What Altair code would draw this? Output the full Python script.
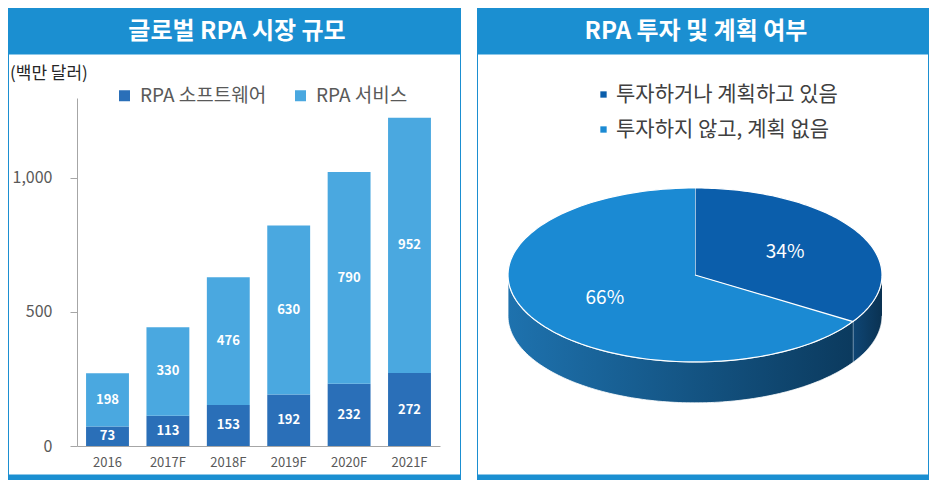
import altair as alt
import pandas as pd

# ---------------- data ----------------
years = ["2016", "2017F", "2018F", "2019F", "2020F", "2021F"]
software = [73, 113, 153, 192, 232, 272]
services = [198, 330, 476, 630, 790, 952]
series_names = ["RPA 소프트웨어", "RPA 서비스"]
y_ticks = [0, 500, 1000]

pie_labels = ["투자하거나 계획하고 있음", "투자하지 않고, 계획 없음"]
pie_shares = [34, 66]

left_title = "글로벌 RPA 시장 규모"
right_title = "RPA 투자 및 계획 여부"
unit_text = "(백만 달러)"

# ---------------- style ----------------
FONT = "Noto Sans CJK KR"
BLUE = "#1b8fd1"
C_SOFT = "#2a6fb8"
C_SERV = "#4aa8e0"
TOP_COLORS = ["#0b5eab", "#1b8ad3"]
AXIS_GRAY = "#a6a6a6"
LABEL_GRAY = "#595959"

PH = 348          # plot height (both panels)
PW_L = 363        # left plot width
PW_R = 436        # right plot width
N = 120           # arc sampling steps
DEPTH = 0.47      # pie thickness in units of the vertical radius

one = alt.Data(values=[{"a": 1}])


def decorations(x0, x1, title, tx):
    header = alt.Chart(one).mark_rect(color=BLUE).encode(
        x=alt.value(x0), x2=alt.value(x1), y=alt.value(-90), y2=alt.value(-44))
    htext = alt.Chart(one).mark_text(
        font=FONT, fontSize=24, fontWeight="bold", color="white",
        align="center", baseline="middle").encode(
        x=alt.value(tx), y=alt.value(-66), text=alt.value(title))
    frame = alt.Chart(one).mark_rect(
        fillOpacity=0, stroke=BLUE, strokeWidth=1).encode(
        x=alt.value(x0 + 0.5), x2=alt.value(x1 - 0.5), y=alt.value(-44), y2=alt.value(377))
    bottom = alt.Chart(one).mark_rect(color=BLUE).encode(
        x=alt.value(x0), x2=alt.value(x1), y=alt.value(377), y2=alt.value(382))
    return [frame, header, htext, bottom]


# ---------------- left: stacked bars ----------------
bar_rows = []
for i, yr in enumerate(years):
    bar_rows.append({"year": yr, "series": series_names[0], "value": software[i], "ord": 0})
    bar_rows.append({"year": yr, "series": series_names[1], "value": services[i], "ord": 1})
bar_df = pd.DataFrame(bar_rows)

base = alt.Chart(bar_df).transform_stack(
    stack="value", groupby=["year"], as_=["v0", "v1"],
    sort=[alt.SortField("ord", order="ascending")])

x_axis = alt.Axis(labelAngle=0, ticks=False, domainColor=AXIS_GRAY,
                  labelColor=LABEL_GRAY, labelFontSize=13, labelPadding=10,
                  labelFont=FONT)
y_axis = alt.Axis(values=y_ticks, format=",.0f", formatType="number", grid=False,
                  tickSize=7, tickColor=AXIS_GRAY, domainColor=AXIS_GRAY,
                  labelFontSize=16, labelColor=LABEL_GRAY, labelPadding=18,
                  labelFont=FONT)
x_scale = alt.Scale(paddingInner=0.29, paddingOuter=0.15)
yscale_bar = alt.Scale(domain=[0, 1298], nice=False)

bars = base.mark_bar().encode(
    x=alt.X("year:N", sort=years, title=None, scale=x_scale, axis=x_axis),
    y=alt.Y("v0:Q", title=None, scale=yscale_bar, axis=y_axis),
    y2="v1:Q",
    color=alt.Color("series:N",
                    scale=alt.Scale(domain=series_names, range=[C_SOFT, C_SERV]),
                    legend=alt.Legend(title=None, orient="none", legendX=38, legendY=-12,
                                      direction="horizontal", symbolType="square",
                                      symbolSize=121, symbolStrokeWidth=0,
                                      labelFontSize=19, labelColor=LABEL_GRAY,
                                      labelFont=FONT, columnPadding=24, labelOffset=6,
                                      labelLimit=400, padding=0)),
)

bar_labels = base.transform_calculate(mid="(datum.v0 + datum.v1) / 2").mark_text(
    color="white", fontWeight="bold", fontSize=13, font=FONT, baseline="middle").encode(
    x=alt.X("year:N", sort=years, title=None, scale=x_scale, axis=x_axis),
    y=alt.Y("mid:Q", title=None, scale=yscale_bar, axis=y_axis),
    text="value:Q",
)

unit = alt.Chart(one).mark_text(
    font=FONT, fontSize=17, color="#262626", align="left", baseline="middle").encode(
    x=alt.value(-67), y=alt.value(-24), text=alt.value(unit_text))

left = alt.layer(*decorations(-69, 384, left_title, 160), unit, bars, bar_labels).properties(
    width=PW_L, height=PH)

# ---------------- right: 3D-looking pie ----------------
top_rows, side_rows, lab_rows = [], [], []
cum = 0
for name, share in zip(pie_labels, pie_shares):
    f0 = cum / 100
    cum += share
    f1 = cum / 100
    for k in range(-1, N + 1):
        top_rows.append({"slice": name, "f0": f0, "f1": f1, "k": k})
    for k in range(0, 2 * N + 2):
        side_rows.append({"slice": name, "f0": f0, "f1": f1, "k": k})
    lab_rows.append({"slice": name, "share": share, "f0": f0, "f1": f1})
top_df = pd.DataFrame(top_rows)
side_df = pd.DataFrame(side_rows)
lab_df = pd.DataFrame(lab_rows)

xs = alt.Scale(domain=[-1.123, 1.2086], nice=False, zero=False)
ys = alt.Scale(domain=[-1.966, 2.034], nice=False, zero=False)

side_base = alt.Chart(side_df).transform_calculate(
    g0="max(datum.f0, 0.25)", g1="min(datum.f1, 0.75)"
).transform_filter("datum.g1 > datum.g0").transform_calculate(
    t=f"datum.k <= {N} ? datum.k / {N} : ({2 * N + 1} - datum.k) / {N}",
).transform_calculate(
    a="2 * PI * (datum.g0 + (datum.g1 - datum.g0) * datum.t)",
).transform_calculate(
    px="sin(datum.a)",
    py=f"cos(datum.a) - (datum.k <= {N} ? 0 : {DEPTH})",
)

grad1 = alt.Gradient(gradient="linear", x1=0, x2=1, y1=0, y2=0,
                     stops=[alt.GradientStop(offset=0, color="#0f4675"),
                            alt.GradientStop(offset=1, color="#0a3252")])
grad2 = alt.Gradient(gradient="linear", x1=0, x2=1, y1=0, y2=0,
                     stops=[alt.GradientStop(offset=0, color="#1e72ae"),
                            alt.GradientStop(offset=1, color="#0b3a5e")])

side1 = side_base.transform_filter(alt.datum.slice == pie_labels[0]).mark_line(
    fill=grad1, stroke="white", strokeWidth=0.8).encode(
    x=alt.X("px:Q", scale=xs, axis=None), y=alt.Y("py:Q", scale=ys, axis=None),
    order="k:Q")
side2 = side_base.transform_filter(alt.datum.slice == pie_labels[1]).mark_line(
    fill=grad2, stroke="white", strokeWidth=0.8).encode(
    x=alt.X("px:Q", scale=xs, axis=None), y=alt.Y("py:Q", scale=ys, axis=None),
    order="k:Q")

top = alt.Chart(top_df).transform_calculate(
    a=f"2 * PI * (datum.f0 + (datum.f1 - datum.f0) * datum.k / {N})"
).transform_calculate(
    px="datum.k < 0 ? 0 : sin(datum.a)",
    py="datum.k < 0 ? 0 : cos(datum.a)",
).mark_line(filled=True, stroke="white", strokeWidth=1.2).encode(
    x=alt.X("px:Q", scale=xs, axis=None),
    y=alt.Y("py:Q", scale=ys, axis=None),
    order="k:Q",
    color=alt.Color("slice:N", scale=alt.Scale(domain=pie_labels, range=TOP_COLORS),
                    legend=alt.Legend(title=None, orient="none", legendX=108, legendY=-14,
                                      direction="vertical", symbolType="square",
                                      symbolSize=40, symbolStrokeWidth=0,
                                      labelFontSize=21, labelColor="#404040",
                                      labelFont=FONT, rowPadding=13, labelOffset=2,
                                      labelLimit=400, padding=0)),
)

pie_text = alt.Chart(lab_df).transform_calculate(
    a="PI * (datum.f0 + datum.f1)",
).transform_calculate(
    px="0.55 * sin(datum.a)", py="0.55 * cos(datum.a)",
    lbl="datum.share + '%'",
).mark_text(color="white", fontSize=19, font=FONT, baseline="middle").encode(
    x=alt.X("px:Q", scale=xs, axis=None),
    y=alt.Y("py:Q", scale=ys, axis=None),
    text="lbl:N",
)

right = alt.layer(*decorations(-8, 444, right_title, 211), side1, side2, top, pie_text).properties(
    width=PW_R, height=PH)

chart = alt.hconcat(left, right, spacing=16).resolve_scale(
    color="independent").properties(padding=0, background="white").configure(
    font=FONT).configure_view(strokeWidth=0)

chart.save("out.html", embed_options={"renderer": "svg", "actions": False})
